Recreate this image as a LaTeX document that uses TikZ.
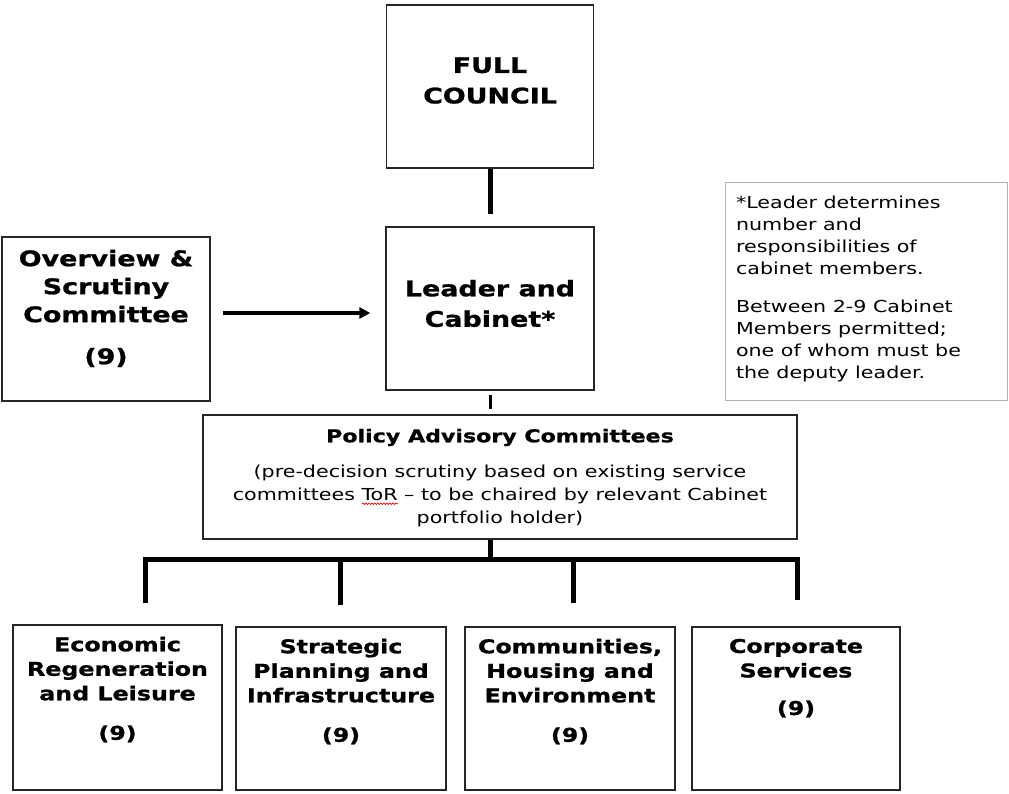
\documentclass[tikz,border=0pt]{standalone}
\usepackage{fontspec}
\setmainfont{DejaVu Sans}[FakeStretch=1.25, BoldFeatures={FakeBold=1}]
\usetikzlibrary{positioning,arrows.meta,decorations.pathmorphing}

\newlength\spellwd
\newcommand\spellmark[1]{\settowidth\spellwd{#1}\rlap{\tikz[baseline=0pt]\draw[red, line width=0.7pt, decorate, decoration={snake, amplitude=0.8pt, segment length=3pt}] (0pt,-3.5pt) -- (\spellwd,-3.5pt);}#1}

\begin{document}
\begin{tikzpicture}[x=1pt, y=-1pt,
  box/.style={draw=black!85, line width=1.4pt, inner sep=0pt},
  notebox/.style={draw=black!30, line width=1pt, inner sep=0pt},
  bigtxt/.style={font=\bfseries\fontsize{21.5}{30.5}\selectfont, align=center},
  subtxt/.style={font=\bfseries\fontsize{19}{24.5}\selectfont, align=center},
  bodytxt/.style={font=\fontsize{16.5}{22}\selectfont},
  trunk/.style={line width=5pt},
  link/.style={line width=3.2pt, -{Triangle[length=11pt,width=11pt]}}]
  \fill[white] (0,0) rectangle (1009,793);
  \useasboundingbox (0,0) rectangle (1009,793);

  % Organisationsdiagram: council, cabinet, udvalg
  \node[box, minimum width=207pt, minimum height=163pt] (council) at (490,86.5) {};
  \node[bigtxt] (council-t) at ([yshift=6pt]council.center) {FULL\\COUNCIL};
  \node[box, minimum width=208pt, minimum height=163pt] (leader) at (490,308.5) {};
  \node[bigtxt] (leader-t) at ([yshift=5pt]leader.center) {Leader and\\Cabinet*};
  \node[box, minimum width=208pt, minimum height=164pt] (scrutiny) at (106,319) {};
  \node[bigtxt, font=\bfseries\fontsize{21.5}{28}\selectfont, below=10pt of scrutiny.north] (scrutiny-t) {Overview \&\\Scrutiny\\Committee\\[14pt](9)};
  \node[notebox, minimum width=282pt, minimum height=218pt] (note) at (866,291) {};
  \node[bodytxt, align=left, anchor=north west] (note-t) at ([xshift=8pt,yshift=-11pt]note.north west)
    {*Leader determines\\number and\\responsibilities of\\cabinet members.\\[16pt]Between 2-9 Cabinet\\Members permitted;\\one of whom must be\\the deputy leader.};
  \node[box, minimum width=594pt, minimum height=124pt] (pac) at (500,477) {};
  \node[align=center, font=\fontsize{16.5}{23}\selectfont, below=11pt of pac.north] (pac-t)
    {{\bfseries\fontsize{17.7}{23}\selectfont Policy Advisory Committees}\\[12pt](pre-decision scrutiny based on existing service\\committees \spellmark{ToR} -- to be chaired by relevant Cabinet\\portfolio holder)};

  \node[box, minimum width=209pt, minimum height=165pt] (econ) at (117.5,707.5) {};
  \node[subtxt, below=9pt of econ.north] (econ-t) {Economic\\Regeneration\\and Leisure\\[15pt](9)};
  \node[box, minimum width=210pt, minimum height=163pt] (strat) at (341,708.5) {};
  \node[subtxt, below=9pt of strat.north] (strat-t) {Strategic\\Planning and\\Infrastructure\\[15pt](9)};
  \node[box, minimum width=210pt, minimum height=163pt] (comm) at (570,708.5) {};
  \node[subtxt, below=9pt of comm.north] (comm-t) {Communities,\\Housing and\\Environment\\[15pt](9)};
  \node[box, minimum width=208pt, minimum height=163pt] (corp) at (796,708.5) {};
  \node[subtxt, below=9pt of corp.north] (corp-t) {Corporate\\Services\\[13pt](9)};

  \draw[trunk, shorten >=12pt] (council.south) -- (leader.north);
  \draw[line width=3pt, shorten <=4pt, shorten >=5pt] (leader.south) -- (leader.south |- pac.north);
  \coordinate (arrow-s) at ([yshift=6pt]scrutiny.east);
  \draw[link, shorten <=12pt, shorten >=15pt] (arrow-s) -- (arrow-s -| leader.west);

  \coordinate (fork) at (490,559);
  \coordinate (drop1) at (145,603);
  \coordinate (drop2) at (340,605);
  \coordinate (drop3) at (573,603);
  \coordinate (drop4) at (797,600);
  \draw[trunk] (fork |- pac.south) -- (fork);
  \draw[trunk] (drop1) -- (drop1 |- fork) -- (drop4 |- fork) -- (drop4);
  \draw[trunk] (drop2) -- (drop2 |- fork);
  \draw[trunk] (drop3) -- (drop3 |- fork);
\end{tikzpicture}
\end{document}
